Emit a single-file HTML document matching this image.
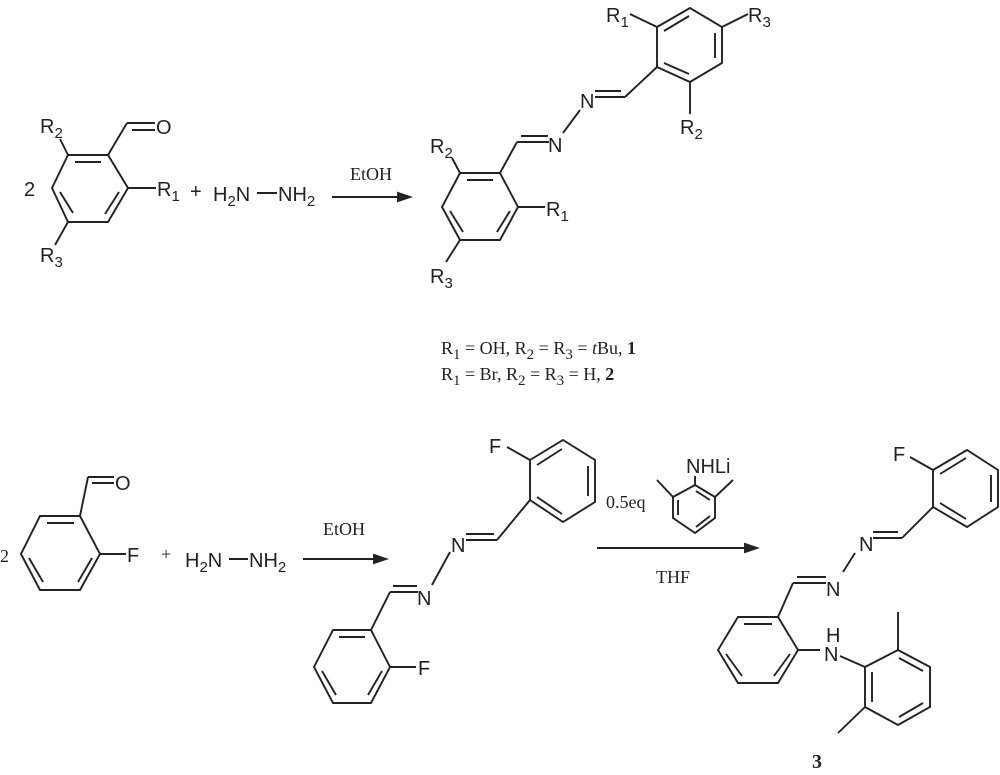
<!DOCTYPE html>
<html><head><meta charset="utf-8"><style>
body{margin:0;background:#fff;}
svg{display:block}
.s{font-family:"Liberation Sans",sans-serif;font-size:20px;fill:#222}
.r{font-family:"Liberation Serif",serif;font-size:18px;fill:#222}
.sub{font-size:15px}
line,polygon,polyline{stroke:#222;stroke-width:1.9;fill:none}
</style></head><body>
<svg width="1000" height="775" viewBox="0 0 1000 775" xmlns="http://www.w3.org/2000/svg">
<!-- Top-left aldehyde -->
<polygon points="68,155 108,155 128,188 108,222 68,222 52,188"/>
<line x1="75" y1="162" x2="101" y2="162"/><line x1="119" y1="192" x2="105" y2="214"/><line x1="60" y1="192" x2="73" y2="213"/>
<line x1="108" y1="155" x2="127" y2="123"/><line x1="127" y1="123" x2="155" y2="123"/><line x1="132" y1="130" x2="155" y2="130"/>
<text class="s" x="156" y="134">O</text>
<line x1="68" y1="155" x2="60" y2="139"/><text class="s" x="40" y="133">R<tspan class="sub" dy="5">2</tspan></text>
<line x1="128" y1="188" x2="156" y2="188"/><text class="s" x="157" y="196">R<tspan class="sub" dy="5">1</tspan></text>
<line x1="68" y1="222" x2="55" y2="245"/><text class="s" x="40" y="262">R<tspan class="sub" dy="5">3</tspan></text>
<text class="s" x="24" y="196">2</text>
<text class="s" x="190" y="198">+</text>
<text class="s" x="213" y="201">H<tspan class="sub" dy="5">2</tspan><tspan dy="-5">N</tspan></text>
<line x1="257" y1="193" x2="277" y2="193"/>
<text class="s" x="278" y="201">NH<tspan class="sub" dy="5">2</tspan></text>
<line x1="332" y1="197" x2="402" y2="197"/><polygon points="410,197 398,193 398,201" style="fill:#222"/>
<text class="r" x="371" y="180" text-anchor="middle">EtOH</text>
<!-- Top product -->
<polygon points="460,173 500,173 518,207 500,240 460,240 442,207"/>
<line x1="467" y1="180" x2="493" y2="180"/><line x1="510" y1="211" x2="497" y2="232"/><line x1="450" y1="211" x2="463" y2="232"/>
<line x1="500" y1="173" x2="517" y2="142"/><line x1="517" y1="142" x2="549" y2="142"/><line x1="521" y1="136" x2="548" y2="136"/>
<text class="s" x="548" y="152">N</text>
<line x1="563" y1="133" x2="580" y2="110"/>
<text class="s" x="580" y="108">N</text>
<line x1="595" y1="97" x2="625" y2="97"/><line x1="595" y1="91" x2="621" y2="91"/>
<line x1="625" y1="97" x2="657" y2="67"/>
<polygon points="657,27 690,8 722,27 722,63 690,82 657,67"/>
<line x1="664" y1="31" x2="689" y2="16"/><line x1="715" y1="33" x2="715" y2="58"/><line x1="689" y1="74" x2="664" y2="63"/>
<line x1="657" y1="27" x2="630" y2="14"/><text class="s" x="606" y="22">R<tspan class="sub" dy="5">1</tspan></text>
<line x1="722" y1="27" x2="748" y2="14"/><text class="s" x="748" y="22">R<tspan class="sub" dy="5">3</tspan></text>
<line x1="690" y1="82" x2="690" y2="114"/><text class="s" x="680" y="134">R<tspan class="sub" dy="5">2</tspan></text>
<line x1="460" y1="173" x2="452" y2="158"/><text class="s" x="430" y="153">R<tspan class="sub" dy="5">2</tspan></text>
<line x1="518" y1="207" x2="545" y2="207"/><text class="s" x="546" y="216">R<tspan class="sub" dy="5">1</tspan></text>
<line x1="460" y1="240" x2="446" y2="262"/><text class="s" x="430" y="283">R<tspan class="sub" dy="5">3</tspan></text>
<!-- caption -->
<text class="r" x="441" y="354">R<tspan class="sub" dy="5">1</tspan><tspan dy="-5"> = OH, R</tspan><tspan class="sub" dy="5">2</tspan><tspan dy="-5"> = R</tspan><tspan class="sub" dy="5">3</tspan><tspan dy="-5"> = </tspan><tspan font-style="italic">t</tspan>Bu, <tspan font-weight="bold">1</tspan></text>
<text class="r" x="441" y="380">R<tspan class="sub" dy="5">1</tspan><tspan dy="-5"> = Br, R</tspan><tspan class="sub" dy="5">2</tspan><tspan dy="-5"> = R</tspan><tspan class="sub" dy="5">3</tspan><tspan dy="-5"> = H, </tspan><tspan font-weight="bold">2</tspan></text>
<!-- Bottom-left aldehyde -->
<polygon points="40,516 80,516 100,554 80,590 40,590 21,554"/>
<line x1="47" y1="523" x2="74" y2="523"/><line x1="92" y1="558" x2="78" y2="582"/><line x1="29" y1="558" x2="43" y2="582"/>
<line x1="80" y1="516" x2="88" y2="477"/><line x1="88" y1="477" x2="114" y2="477"/><line x1="92" y1="483" x2="114" y2="483"/>
<text class="s" x="115" y="490">O</text>
<line x1="100" y1="554" x2="126" y2="554"/><text class="s" x="127" y="562">F</text>
<text class="r" x="0" y="562">2</text>
<text class="r" x="161" y="560">+</text>
<text class="s" x="185" y="567">H<tspan class="sub" dy="5">2</tspan><tspan dy="-5">N</tspan></text>
<line x1="229" y1="559" x2="248" y2="559"/>
<text class="s" x="249" y="567">NH<tspan class="sub" dy="5">2</tspan></text>
<line x1="303" y1="559" x2="378" y2="559"/><polygon points="386,559 374,555 374,563" style="fill:#222"/>
<text class="r" x="344" y="535" text-anchor="middle">EtOH</text>
<!-- Product 2 -->
<polygon points="333,630 371,630 390,667 371,703 333,703 314,667"/>
<line x1="339" y1="637" x2="365" y2="637"/><line x1="382" y1="671" x2="368" y2="695"/><line x1="322" y1="671" x2="336" y2="695"/>
<line x1="371" y1="630" x2="390" y2="592"/><line x1="390" y1="592" x2="418" y2="592"/><line x1="393" y1="586" x2="417" y2="586"/>
<text class="s" x="417" y="605">N</text>
<line x1="432" y1="585" x2="450" y2="552"/>
<text class="s" x="451" y="552">N</text>
<line x1="466" y1="540" x2="497" y2="540"/><line x1="466" y1="534" x2="494" y2="534"/>
<line x1="497" y1="540" x2="530" y2="500"/>
<polygon points="530,460 563,440 595,460 595,502 563,522 530,500"/>
<line x1="537" y1="465" x2="562" y2="449"/><line x1="588" y1="466" x2="588" y2="496"/><line x1="562" y1="514" x2="537" y2="497"/>
<line x1="530" y1="460" x2="507" y2="447"/><text class="s" x="489" y="453">F</text>
<line x1="390" y1="667" x2="416" y2="667"/><text class="s" x="418" y="675">F</text>
<!-- Reagent arrow -->
<line x1="597" y1="548" x2="749" y2="548"/><polygon points="757,548 745,544 745,552" style="fill:#222"/>
<text class="r" x="673" y="583" text-anchor="middle">THF</text>
<text class="r" x="606" y="508">0.5eq</text>
<text class="s" x="686" y="473">NHLi</text>
<polygon points="695,485 715,497 715,518 695,533 673,518 673,497"/>
<line x1="696" y1="491" x2="710" y2="500"/><line x1="678" y1="500" x2="678" y2="515"/><line x1="710" y1="516" x2="696" y2="527"/>
<line x1="695" y1="485" x2="695" y2="476"/>
<line x1="673" y1="497" x2="657" y2="480"/><line x1="715" y1="497" x2="733" y2="480"/>
<!-- Product 3 -->
<polygon points="933,470 967,450 998,470 998,507 967,527 933,507"/>
<line x1="940" y1="474" x2="966" y2="458"/><line x1="991" y1="475" x2="991" y2="502"/><line x1="966" y1="519" x2="940" y2="503"/>
<line x1="933" y1="470" x2="910" y2="457"/><text class="s" x="893" y="461">F</text>
<line x1="933" y1="507" x2="902" y2="538"/><line x1="902" y1="538" x2="873" y2="538"/><line x1="898" y1="532" x2="873" y2="532"/>
<text class="s" x="859" y="551">N</text>
<line x1="855" y1="553" x2="843" y2="572"/>
<text class="s" x="826" y="596">N</text>
<line x1="826" y1="583" x2="793" y2="583"/><line x1="826" y1="577" x2="797" y2="577"/>
<line x1="793" y1="583" x2="778" y2="617"/>
<polygon points="778,617 738,617 718,650 738,683 778,683 798,650"/>
<line x1="772" y1="624" x2="744" y2="624"/><line x1="726" y1="654" x2="742" y2="676"/><line x1="774" y1="676" x2="790" y2="654"/>
<line x1="798" y1="650" x2="820" y2="650"/>
<text class="s" x="826" y="642">H</text><text class="s" x="824" y="661">N</text>
<line x1="840" y1="656" x2="865" y2="667"/>
<polygon points="865,667 898,650 930,667 930,707 898,725 865,707"/>
<line x1="899" y1="658" x2="923" y2="671"/><line x1="872" y1="672" x2="872" y2="702"/><line x1="923" y1="703" x2="899" y2="717"/>
<line x1="898" y1="650" x2="898" y2="612"/><line x1="865" y1="707" x2="838" y2="733"/>
<text class="r" x="817" y="768" text-anchor="middle" font-weight="bold" style="font-size:20px">3</text>
</svg>
</body></html>
